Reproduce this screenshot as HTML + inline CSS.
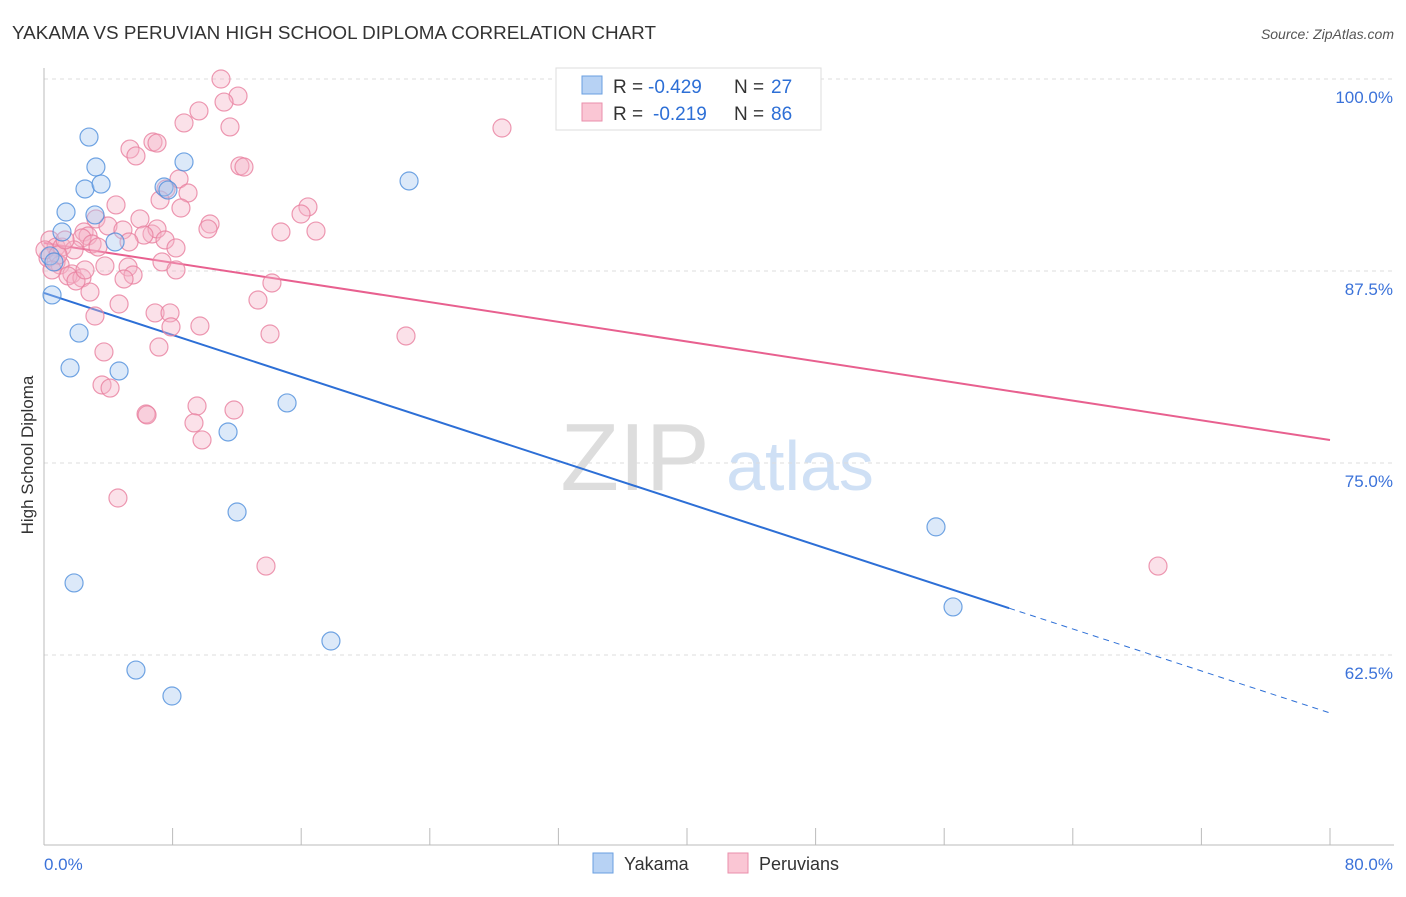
<!DOCTYPE html>
<html><head><meta charset="utf-8"><style>
body{margin:0;background:#fff;font-family:"Liberation Sans",sans-serif}
svg text{font-family:"Liberation Sans",sans-serif}
</style></head><body>
<svg id="chart" width="1406" height="892" viewBox="0 0 1406 892">
<text x="12" y="39" font-size="18" fill="#333" textLength="644" lengthAdjust="spacingAndGlyphs">YAKAMA VS PERUVIAN HIGH SCHOOL DIPLOMA CORRELATION CHART</text>
<text x="1394" y="39" font-size="14" fill="#555" text-anchor="end" font-style="italic">Source: ZipAtlas.com</text>
<text transform="translate(33,455) rotate(-90)" font-size="17" fill="#333" text-anchor="middle">High School Diploma</text>
<g>
<text x="635" y="490" font-size="96" fill="#ddd" text-anchor="middle" font-family="Liberation Serif">ZIP</text>
<text x="800" y="490" font-size="70" fill="#cfe0f5" text-anchor="middle">atlas</text>
</g>
<g id="grid"></g><g id="axes"></g><g id="lines"></g><g id="points"></g>
<g>
<rect x="556" y="68" width="265" height="62" fill="#fff" stroke="#ddd"/>
<rect x="582" y="76" width="20" height="18" fill="#b7d2f4" stroke="#6a9fe0"/>
<text x="613" y="93" font-size="19" fill="#333">R =</text>
<text x="648" y="93" font-size="19" fill="#2d6fd6">-0.429</text>
<text x="734" y="93" font-size="19" fill="#333">N =</text>
<text x="771" y="93" font-size="19" fill="#2d6fd6">27</text>
<rect x="582" y="103" width="20" height="18" fill="#fac6d4" stroke="#ea8fab"/>
<text x="613" y="120" font-size="19" fill="#333">R =</text>
<text x="653" y="120" font-size="19" fill="#2d6fd6">-0.219</text>
<text x="734" y="120" font-size="19" fill="#333">N =</text>
<text x="771" y="120" font-size="19" fill="#2d6fd6">86</text>
</g>
<g>
<rect x="593" y="853" width="20" height="20" fill="#b7d2f4" stroke="#6a9fe0"/>
<text x="624" y="870" font-size="18" fill="#333">Yakama</text>
<rect x="728" y="853" width="20" height="20" fill="#fac6d4" stroke="#ea8fab"/>
<text x="759" y="870" font-size="18" fill="#333">Peruvians</text>
</g>
</svg>
<script>
const xTickLabels=["0.0%","80.0%"];
const yTicks=[100,87.5,75,62.5];
const yTickLabels=["100.0%","87.5%","75.0%","62.5%"];
const blueX=[2.80,3.23,8.71,2.55,3.55,7.47,7.71,22.71,1.37,3.17,1.12,4.42,0.37,0.62,0.50,2.18,1.62,4.67,15.12,11.45,12.01,1.87,5.72,7.96,17.85,55.49,56.55];
const blueY=[96.22,94.27,94.60,92.84,93.16,92.97,92.77,93.36,91.34,91.15,90.04,89.39,88.48,88.09,85.94,83.46,81.19,80.99,78.91,77.02,71.81,67.19,61.52,59.83,63.41,70.84,65.63];
const pinkX=[11.01,12.07,11.20,9.64,8.71,11.57,28.49,6.78,7.03,5.35,5.72,12.19,12.44,8.40,8.96,7.59,4.48,8.52,16.42,15.99,5.97,3.23,10.33,10.20,16.92,14.74,3.98,2.49,2.74,6.72,7.03,4.91,6.22,2.36,5.29,7.53,8.21,2.99,3.36,0.37,0.75,1.12,1.87,0.25,0.75,1.00,3.79,5.23,7.34,8.21,5.54,1.74,1.49,2.36,1.99,4.98,14.18,2.86,13.31,4.67,3.17,6.91,7.84,7.90,9.70,14.06,22.52,7.15,3.73,3.61,4.11,6.35,6.41,9.52,9.33,11.82,9.83,4.60,13.81,69.30,0.06,0.87,0.50,1.31,2.55,7.22];
const pinkY=[100.0,98.89,98.50,97.92,97.14,96.88,96.81,95.90,95.83,95.44,94.99,94.34,94.27,93.49,92.58,92.84,91.80,91.60,91.67,91.21,90.89,90.89,90.56,90.24,90.10,90.04,90.43,90.04,89.78,89.91,90.24,90.17,89.84,89.65,89.39,89.52,89.00,89.26,89.06,89.52,89.06,89.06,88.87,88.35,88.09,87.89,87.83,87.76,88.09,87.57,87.24,87.31,87.18,87.05,86.85,86.98,86.72,86.13,85.61,85.35,84.57,84.77,84.77,83.86,83.92,83.40,83.27,82.55,82.23,80.08,79.88,78.19,78.13,78.71,77.61,78.45,76.50,72.72,68.29,68.29,88.87,88.54,87.57,89.52,87.57,92.12];
const blueTrend=[86.07,-0.3418]; const blueSolidEnd=60.04;
const pinkTrend=[89.32,-0.1603];
const NS="http://www.w3.org/2000/svg";
const X0=44,X1=1330,YT=79;
const sx=v=>X0+(v/80)*(X1-X0);
const sy=v=>YT+(100-v)/12.5*192;
function mk(tag,at,parent){const e=document.createElementNS(NS,tag);for(const k in at)e.setAttribute(k,at[k]);parent.appendChild(e);return e;}
const grid=document.getElementById('grid'),axes=document.getElementById('axes'),lines=document.getElementById('lines'),pts=document.getElementById('points');
yTicks.forEach((t,i)=>{
 const l=mk('line',{x1:X0,x2:1394,y1:sy(t),y2:sy(t),stroke:'#ddd','stroke-dasharray':'4,4'},grid);
 
 
 const tx=mk('text',{x:1393,y:sy(t)+24,'font-size':17,fill:'#3b72d9','text-anchor':'end'},axes);
 tx.textContent=yTickLabels[i];
 
 
});
const ya=mk('line',{x1:X0,x2:X0,y1:68,y2:845,stroke:'#bbb'},axes);


const xa=mk('line',{x1:X0,x2:1394,y1:845,y2:845,stroke:'#bbb'},axes);


for(let i=0;i<=10;i++){const v=i*8;
 const t=mk('line',{x1:sx(v),x2:sx(v),y1:828,y2:845,stroke:'#bbb'},axes);
 
 
}
const xl0=mk('text',{x:X0,y:870,'font-size':17,fill:'#3b72d9'},axes);xl0.textContent=xTickLabels[0];


const xl1=mk('text',{x:1393,y:870,'font-size':17,fill:'#3b72d9','text-anchor':'end'},axes);xl1.textContent=xTickLabels[1];


function dot(x,y,fill,stroke,name){const c=mk('circle',{cx:sx(x),cy:sy(y),r:9,fill:fill,'fill-opacity':0.4,stroke:stroke,'stroke-opacity':0.8,'stroke-width':1.2},pts);
 
 }
pinkX.forEach((x,i)=>dot(x,pinkY[i],'#f5b3c7','#e87f9f','peruvians-point'));
blueX.forEach((x,i)=>dot(x,blueY[i],'#a8c8f0','#4f8fdc','yakama-point'));
const f=(t,x)=>t[0]+t[1]*x;
const pl=mk('line',{x1:sx(0),y1:sy(f(pinkTrend,0)),x2:sx(80),y2:sy(f(pinkTrend,80)),stroke:'#e8608f','stroke-width':2},lines);


const bl=mk('line',{x1:sx(0),y1:sy(f(blueTrend,0)),x2:sx(blueSolidEnd),y2:sy(f(blueTrend,blueSolidEnd)),stroke:'#2d6fd6','stroke-width':2},lines);


const bd=mk('line',{x1:sx(blueSolidEnd),y1:sy(f(blueTrend,blueSolidEnd)),x2:sx(80),y2:sy(f(blueTrend,80)),stroke:'#2d6fd6','stroke-width':1,'stroke-dasharray':'6,5'},lines);


</script>
</body></html>
